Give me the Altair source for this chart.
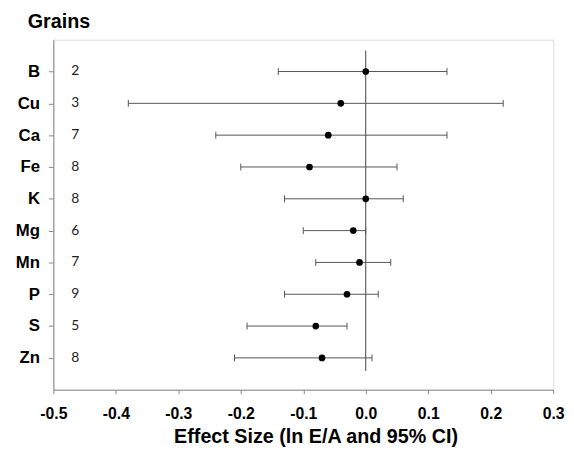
import altair as alt
import pandas as pd

elements = ["B", "Cu", "Ca", "Fe", "K", "Mg", "Mn", "P", "S", "Zn"]
counts = [2, 3, 7, 8, 8, 6, 7, 9, 5, 8]
effect = [0.0, -0.04, -0.06, -0.09, 0.0, -0.02, -0.01, -0.03, -0.08, -0.07]
ci_low = [-0.14, -0.38, -0.24, -0.20, -0.13, -0.10, -0.08, -0.13, -0.19, -0.21]
ci_high = [0.13, 0.22, 0.13, 0.05, 0.06, 0.0, 0.04, 0.02, -0.03, 0.01]
x_ticks = [-0.5, -0.4, -0.3, -0.2, -0.1, 0.0, 0.1, 0.2, 0.3]

df = pd.DataFrame({
    "element": elements,
    "row": list(range(1, len(elements) + 1)),
    "n": [str(c) for c in counts],
    "effect": effect,
    "lo": ci_low,
    "hi": ci_high,
    "nx": [-0.465] * len(elements),
})
zero_df = pd.DataFrame({"x": [0.0], "y1": [0.34], "y2": [10.41]})

label_arr = "[''," + ",".join("'" + e + "'" for e in elements) + ",'']"

xscale = alt.Scale(domain=[-0.5, 0.3], nice=False, zero=False)
yscale = alt.Scale(domain=[0, 11], reverse=True, nice=False, zero=False)

xaxis = alt.Axis(
    values=x_ticks,
    labelExpr="datum.value < -0.0001 ? '-' + format(-datum.value, '.1f') : format(abs(datum.value), '.1f')",
    grid=False,
    tickSize=4,
    tickColor="#868686",
    domainColor="#868686",
    labelFont="Liberation Sans",
    labelFontSize=16,
    labelFontWeight="bold",
    labelColor="#000000",
    labelPadding=12,
    labelFlush=False,
    labelOverlap=False,
    title="Effect Size (ln E/A and 95% CI)",
    titleFont="Liberation Sans",
    titleFontSize=20,
    titleFontWeight="bold",
    titleColor="#000000",
    titleX=266,
    titleY=54,
    titleBaseline="alphabetic",
    titleAlign="center",
)
yaxis = alt.Axis(
    values=list(range(1, len(elements) + 1)),
    labelExpr=label_arr + "[datum.value]",
    grid=False,
    tickSize=5,
    tickColor="#868686",
    domainColor="#868686",
    labelFont="Liberation Sans",
    labelFontSize=17,
    labelFontWeight="bold",
    labelColor="#000000",
    labelPadding=9,
    labelOverlap=False,
    title=None,
)

base = alt.Chart(df)

bars = base.mark_rule(color="#555555", strokeWidth=1).encode(
    x=alt.X("lo:Q", scale=xscale, axis=xaxis),
    x2="hi:Q",
    y=alt.Y("row:Q", scale=yscale, axis=yaxis),
)
cap_lo = base.mark_point(shape="M0,-1L0,1", size=49, filled=False, color="#555555", strokeWidth=1, opacity=1).encode(
    x=alt.X("lo:Q", scale=xscale, axis=xaxis), y=alt.Y("row:Q", scale=yscale, axis=yaxis)
)
cap_hi = base.mark_point(shape="M0,-1L0,1", size=49, filled=False, color="#555555", strokeWidth=1, opacity=1).encode(
    x=alt.X("hi:Q", scale=xscale, axis=xaxis), y=alt.Y("row:Q", scale=yscale, axis=yaxis)
)
zero = alt.Chart(zero_df).mark_rule(color="#404040", strokeWidth=1).encode(
    x=alt.X("x:Q", scale=xscale, axis=xaxis),
    y=alt.Y("y1:Q", scale=yscale, axis=yaxis),
    y2="y2:Q",
)
pts = base.mark_point(shape="circle", size=46, filled=True, color="#000000", opacity=1).encode(
    x=alt.X("effect:Q", scale=xscale, axis=xaxis), y=alt.Y("row:Q", scale=yscale, axis=yaxis)
)
ntext = base.mark_text(font="Lato", fontSize=14, color="#222222", align="center", baseline="middle").encode(
    x=alt.X("nx:Q", scale=xscale, axis=xaxis), y=alt.Y("row:Q", scale=yscale, axis=yaxis), text="n:N"
)

chart = alt.layer(zero, bars, cap_lo, cap_hi, pts, ntext).properties(
    width=507,
    height=355,
    autosize=alt.AutoSizeParams(type="none"),
    padding={"left": 46, "top": 29, "right": 13, "bottom": 58},
    title=alt.TitleParams(
        "Grains",
        anchor="start",
        frame="group",
        dx=-26,
        offset=8,
        font="Liberation Sans",
        fontSize=20,
        fontWeight="bold",
        color="#000000",
    ),
).configure_view(stroke="#868686", strokeWidth=1).configure_axis(
    labelOverlap=False
).configure(background="white")

chart.save("out.html", embed_options={"renderer": "svg", "actions": False})
